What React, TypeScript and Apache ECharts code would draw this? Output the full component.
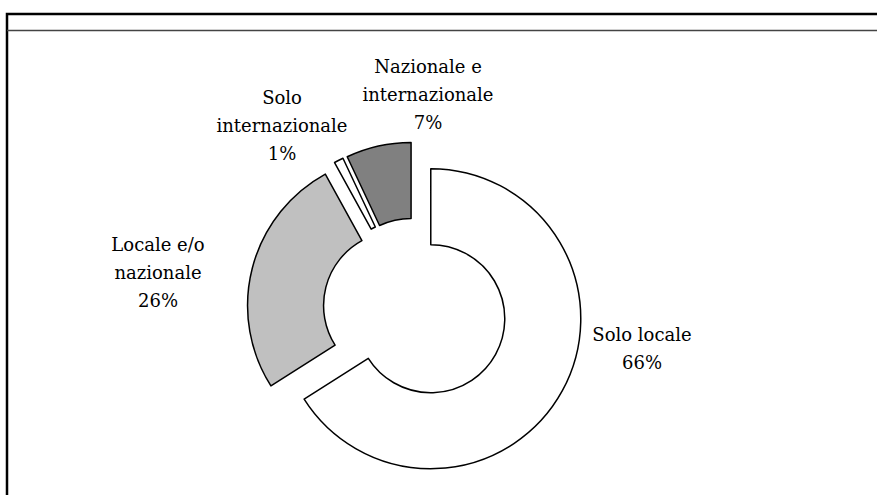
import React, { useEffect, useRef } from "react";
import * as echarts from "echarts";

const categories = [
  "Solo locale",
  "Locale e/o\nnazionale",
  "Solo\ninternazionale",
  "Nazionale e\ninternazionale",
];
const values = [66, 26, 1, 7];
const percentLabels = ["66%", "26%", "1%", "7%"];
const sliceColors = ["#FFFFFF", "#C0C0C0", "#FFFFFF", "#808080"];
// label block positions (centre x, top y), in pixels
const labelAnchors: [number, number][] = [
  [642, 320],
  [158, 230],
  [282, 83],
  [428, 52],
];

export default function App() {
  const ref = useRef<HTMLDivElement>(null);
  useEffect(() => {
    if (!ref.current) return;
    const chart = echarts.init(ref.current, null, { renderer: "svg" });
    const font = "'DejaVu Serif', serif";
    const labelTexts = categories.map((c, i) => ({
      type: "text",
      silent: true,
      x: labelAnchors[i][0],
      y: labelAnchors[i][1],
      style: {
        text: `${c}\n${percentLabels[i]}`,
        fontFamily: font,
        fontSize: 18,
        lineHeight: 28,
        fill: "#000",
        align: "center",
        verticalAlign: "top",
      },
    }));
    chart.setOption({
      animation: false,
      backgroundColor: "#FFFFFF",
      graphic: [
        {
          type: "rect",
          shape: { x: 7, y: 14, width: 900, height: 520 },
          style: { fill: "none", stroke: "#000", lineWidth: 2.5 },
          silent: true,
        },
        {
          type: "line",
          shape: { x1: 7, y1: 30.5, x2: 877, y2: 30.5 },
          style: { stroke: "#444", lineWidth: 1.5 },
          silent: true,
        },
        ...labelTexts,
      ],
      series: [
        {
          type: "pie",
          center: [415, 310],
          radius: [74, 150],
          startAngle: 90,
          clockwise: true,
          selectedMode: "multiple",
          selectedOffset: 18,
          avoidLabelOverlap: false,
          emphasis: { disabled: true },
          select: {
            itemStyle: { borderColor: "#000", borderWidth: 1.5 },
          },
          itemStyle: { borderColor: "#000", borderWidth: 1.5 },
          labelLine: { show: false },
          label: { show: false },
          data: categories.map((c, i) => ({
            name: c,
            value: values[i],
            selected: true,
            itemStyle: { color: sliceColors[i] },
            select: { itemStyle: { color: sliceColors[i] } },
          })),
        },
      ],
    });
    return () => chart.dispose();
  }, []);
  return (
    <div
      ref={ref}
      style={{ position: "fixed", left: 0, top: 0, width: 877, height: 495 }}
    />
  );
}
